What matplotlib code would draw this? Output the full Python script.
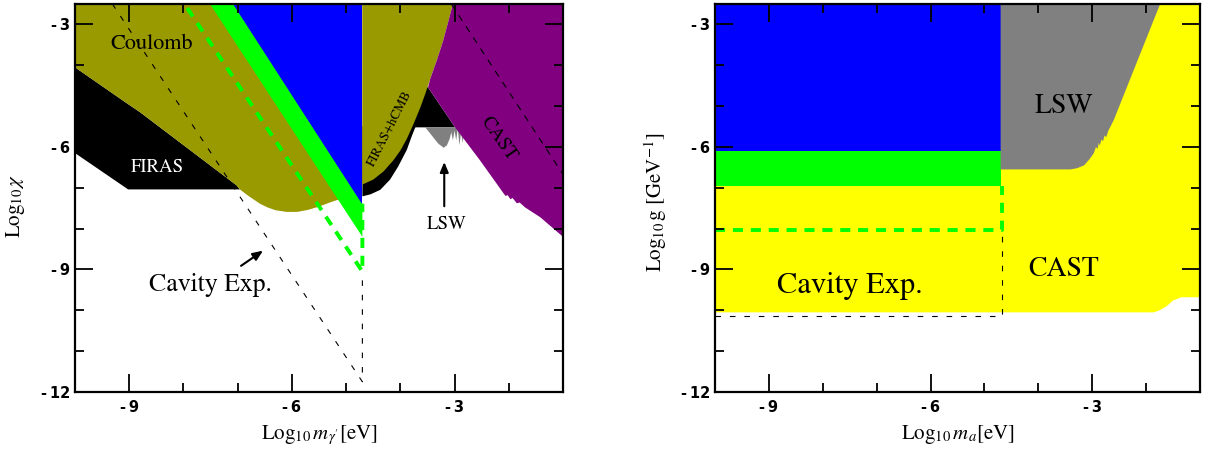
import matplotlib
matplotlib.use("Agg")
import matplotlib.pyplot as plt
from matplotlib.ticker import FixedLocator, FixedFormatter

plt.rcParams["mathtext.fontset"] = "stix"
plt.rcParams["font.family"] = ["STIXGeneral", "DejaVu Serif"]

# ---------------- axes ranges / ticks ----------------
x_range = [-10, -1]
y_range = [-12, -2.5]
x_major = [-9, -6, -3]
y_major = [-12, -9, -6, -3]
x_minor = [-10, -8, -7, -5, -4, -2, -1]
y_minor = [-11, -10, -8, -7, -5, -4]
x_ticklabels = ["-\u20099", "-\u20096", "-\u20093"]
y_ticklabels = ["-\u200912", "-\u20099", "-\u20096", "-\u20093"]

# ---------------- left panel: hidden photon ----------------
firas_left_x = [-10, -10, -9.02, -6.96, -7.02, -8.8, -9.11]
firas_left_y = [-4.05, -6.15, -7.04, -7.04, -6.94, -5.15, -4.87]

coulomb_x = [-10, -10, -9.11, -8.8, -7.02, -6.96, -6.8, -6.59, -6.45, -6.3, -6.1,
             -5.9, -5.7, -5.5, -5.3, -5.1, -4.7, -4.7]
coulomb_y = [-2.5, -4.05, -4.87, -5.15, -6.94, -7.04, -7.2, -7.39, -7.48, -7.55, -7.59,
             -7.59, -7.54, -7.46, -7.36, -7.27, -7.0, -2.5]

blue_left_x = [-7.08, -4.7, -4.7]
blue_left_y = [-2.5, -2.5, -7.39]

green_left_x = [-7.51, -7.08, -4.7, -4.7]
green_left_y = [-2.5, -2.5, -7.39, -8.2]

firas_right_x = [-4.7, -4.7, -4.55, -4.37, -4.19, -4.04, -3.88, -3.79, -3.73, -3.72,
                 -2.99, -3.49, -4.0]
firas_right_y = [-5.5, -7.21, -7.16, -7.05, -6.8, -6.48, -6.07, -5.74, -5.54, -5.52,
                 -5.52, -4.54, -4.5]

hcmb_x = [-4.7, -4.7, -4.5, -4.31, -4.13, -4.0, -3.88, -3.76, -3.63, -3.54, -3.45,
          -3.33, -3.21, -3.03]
hcmb_y = [-2.5, -6.92, -6.8, -6.6, -6.33, -6.09, -5.80, -5.45, -5.03, -4.70, -4.34,
          -3.89, -3.4, -2.5]

lsw_left_x = [-3.54, -3.42, -3.30, -3.20, -3.14, -3.09, -3.06, -3.03, -3.00, -2.97,
              -2.94, -2.91, -2.88, -2.85, -2.82, -2.79]
lsw_left_y = [-5.52, -5.72, -5.92, -6.02, -5.96, -5.80, -5.64, -5.84, -5.60, -5.84,
              -5.56, -5.96, -5.64, -5.90, -5.60, -5.52]

cast_left_x = [-3.03, -3.21, -3.33, -3.45, -3.49, -2.99, -2.53, -2.25, -2.10, -2.06,
               -2.02, -1.97, -1.93, -1.85, -1.8, -1.7, -1.42, -1.0, -1.0]
cast_left_y = [-2.5, -3.4, -3.89, -4.34, -4.54, -5.52, -6.33, -6.85, -7.13, -7.2,
               -7.18, -7.28, -7.25, -7.38, -7.36, -7.48, -7.72, -8.2, -2.5]

cavity_proj_left_x = [-7.93, -4.7, -4.7]
cavity_proj_left_y = [-2.6, -9.05, -7.39]

cavity_reach_left_x = [-9.31, -4.7, -4.7]
cavity_reach_left_y = [-2.5, -11.75, -9.1]

cast_line_x = [-3.06, -1.0]
cast_line_y = [-2.5, -6.67]

# ---------------- right panel: axion-like particles ----------------
cast_right_x = [-10, -10, -1.86, -1.75, -1.62, -1.55, -1.5, -1.42, -1.35, -1.0, -1.0]
cast_right_y = [-2.5, -10.05, -10.05, -10.0, -9.9, -9.82, -9.76, -9.72, -9.68, -9.68, -2.5]

blue_right_x = [-10, -4.7, -4.7, -10]
blue_right_y = [-2.5, -2.5, -6.1, -6.1]

green_right_x = [-10, -4.7, -4.7, -10]
green_right_y = [-6.1, -6.1, -6.95, -6.95]

lsw_right_x = [-4.7, -4.7, -3.4, -3.28, -3.15, -3.05, -2.97, -2.93, -2.9, -2.88, -2.86,
               -2.83, -2.8, -2.77, -2.74, -2.7, -2.66, -2.6, -1.74]
lsw_right_y = [-2.5, -6.55, -6.55, -6.52, -6.45, -6.3, -6.15, -6.0, -6.05, -5.9, -5.97,
               -5.82, -5.86, -5.72, -5.76, -5.6, -5.5, -5.34, -2.5]

cavity_proj_right_x = [-10, -4.68, -4.68]
cavity_proj_right_y = [-8.03, -8.03, -6.95]

cavity_reach_right_x = [-10, -4.68, -4.68]
cavity_reach_right_y = [-10.13, -10.13, -8.05]

# colours
OLIVE = "#999900"
BLUE = "#0000ff"
GREEN = "#00ff00"
PURPLE = "#800080"
GRAY = "#808080"
YELLOW = "#ffff00"

fig = plt.figure(figsize=(12.06, 4.49), dpi=100)
axL = fig.add_axes([75 / 1206, 57 / 449, 488 / 1206, 388 / 449])
axR = fig.add_axes([715 / 1206, 57 / 449, 485 / 1206, 388 / 449])


def style(ax):
    ax.set_xlim(*x_range)
    ax.set_ylim(*y_range)
    ax.xaxis.set_major_locator(FixedLocator(x_major))
    ax.xaxis.set_minor_locator(FixedLocator(x_minor))
    ax.yaxis.set_major_locator(FixedLocator(y_major))
    ax.yaxis.set_minor_locator(FixedLocator(y_minor))
    ax.xaxis.set_major_formatter(FixedFormatter(x_ticklabels))
    ax.yaxis.set_major_formatter(FixedFormatter(y_ticklabels))
    ax.tick_params(which="both", direction="in", top=True, right=True,
                   width=1.3, color="black")
    ax.tick_params(which="major", length=13)
    ax.tick_params(which="minor", length=6.5)
    ax.tick_params(axis="x", pad=6)
    ax.tick_params(axis="y", pad=3.5)
    for lab in ax.get_xticklabels() + ax.get_yticklabels():
        lab.set_fontfamily("DejaVu Sans")
        lab.set_fontweight("bold")
        lab.set_fontsize(10.5)
    for s in ax.spines.values():
        s.set_linewidth(1.6)
    ax.set_axisbelow(False)


def poly(ax, x, y, color, z=1):
    ax.fill(x, y, color=color, lw=0, zorder=z, antialiased=True)


# ---- left panel ----
poly(axL, firas_left_x, firas_left_y, "black", 1)
poly(axL, coulomb_x, coulomb_y, OLIVE, 1.1)
poly(axL, green_left_x, green_left_y, GREEN, 1.2)
poly(axL, blue_left_x, blue_left_y, BLUE, 1.2)
poly(axL, firas_right_x, firas_right_y, "black", 1)
poly(axL, hcmb_x, hcmb_y, OLIVE, 1.1)
poly(axL, lsw_left_x, lsw_left_y, GRAY, 1.1)
poly(axL, cast_left_x, cast_left_y, PURPLE, 1.2)

axL.plot(cavity_reach_left_x, cavity_reach_left_y, color="black", lw=0.8,
         ls=(0, (5, 8)), zorder=2)
axL.plot(cast_line_x, cast_line_y, color="black", lw=0.8, ls=(0, (6, 6)), zorder=2)
axL.plot(cavity_proj_left_x, cavity_proj_left_y, color=GREEN, lw=2.8,
         ls=(0, (2.6, 2.0)), zorder=2.1)

axL.text(-8.58, -3.48, "Coulomb", fontsize=16, ha="center", va="center", zorder=3)
axL.text(-8.49, -6.49, "FIRAS", fontsize=13.5, color="white", ha="center",
         va="center", zorder=3)
axL.text(-4.2, -5.55, "FIRAS+hCMB", fontsize=9.5, rotation=63, ha="center",
         va="center", zorder=3)
axL.text(-2.19, -5.8, "CAST", fontsize=14, rotation=-55, ha="center",
         va="center", zorder=3)
axL.text(-3.14, -7.9, "LSW", fontsize=13.5, ha="center", va="center", zorder=3)
axL.annotate("", xy=(-3.19, -6.3), xytext=(-3.19, -7.52),
             arrowprops=dict(arrowstyle="-|>,head_width=0.25,head_length=0.6",
                             color="black", lw=1.5), zorder=3)
axL.text(-7.5, -9.38, "Cavity Exp.", fontsize=18.5, ha="center", va="center",
         zorder=3)
axL.annotate("", xy=(-6.49, -8.5), xytext=(-6.98, -8.95),
             arrowprops=dict(arrowstyle="-|>,head_width=0.25,head_length=0.6",
                             color="black", lw=1.5), zorder=3)

axL.set_xlabel(r"$\mathrm{Log}_{10}\,m_{\gamma^{\prime}}$[eV]", fontsize=15)
axL.xaxis.set_label_coords(0.5, -0.11)
axL.xaxis.label.set_va("center")
axL.set_ylabel(r"$\mathrm{Log}_{10}\,\chi$", fontsize=15)
axL.yaxis.set_label_coords(-0.121, 0.48)
axL.yaxis.label.set_va("center")
style(axL)

# ---- right panel ----
poly(axR, cast_right_x, cast_right_y, YELLOW, 1)
poly(axR, blue_right_x, blue_right_y, BLUE, 1.1)
poly(axR, green_right_x, green_right_y, GREEN, 1.1)
poly(axR, lsw_right_x, lsw_right_y, GRAY, 1.1)

axR.plot(cavity_reach_right_x, cavity_reach_right_y, color="black", lw=0.8,
         ls=(0, (5, 8)), zorder=2)
axR.plot(cavity_proj_right_x, cavity_proj_right_y, color=GREEN, lw=2.8,
         ls=(0, (2.6, 2.0)), zorder=2.1)

axR.text(-3.53, -5.0, "LSW", fontsize=20, ha="center", va="center", zorder=3)
axR.text(-3.53, -9.0, "CAST", fontsize=20, ha="center", va="center", zorder=3)
axR.text(-7.5, -9.4, "Cavity Exp.", fontsize=22, ha="center", va="center", zorder=3)

axR.set_xlabel(r"$\mathrm{Log}_{10}\,m_{a}$[eV]", fontsize=15)
axR.xaxis.set_label_coords(0.5, -0.11)
axR.xaxis.label.set_va("center")
axR.set_ylabel(r"$\mathrm{Log}_{10}\,\mathrm{g}\ [\mathrm{GeV}^{-1}]$", fontsize=15)
axR.yaxis.set_label_coords(-0.122, 0.49)
axR.yaxis.label.set_va("center")
style(axR)

fig.savefig("out.png", dpi=100)
